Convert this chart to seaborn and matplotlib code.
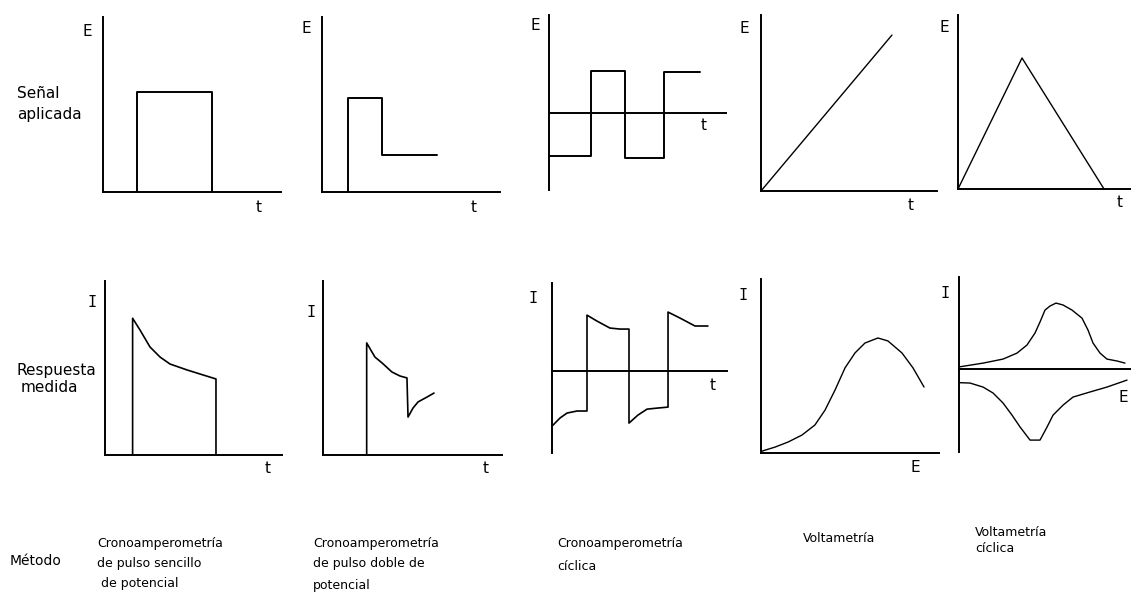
import numpy as np
import pandas as pd
import matplotlib
matplotlib.use("Agg")
import matplotlib.pyplot as plt
import seaborn as sns

# ---------------- data (arbitrary units: time/potential 0-10) ----------------
# Applied signals (E vs t)
pulse1_t = [1.9, 1.9, 6.1, 6.1]
pulse1_E = [0.0, 5.7, 5.7, 0.0]

pulse2_t = [1.46, 1.46, 3.37, 3.37, 6.46]
pulse2_E = [0.0, 5.37, 5.37, 2.11, 2.11]

square_t = [0.0, 2.37, 2.37, 4.29, 4.29, 6.5, 6.5, 8.53]
square_E = [-2.46, -2.46, 2.4, 2.4, -2.57, -2.57, 2.34, 2.34]

ramp_t = [0.0, 7.44]
ramp_E = [0.0, 8.86]

tri_t = [0.0, 3.7, 8.44]
tri_E = [0.0, 7.53, 0.0]

# Measured responses (I vs t or E)
resp1_t = [1.56, 1.56, 1.98, 2.54, 3.11, 3.67, 4.63, 5.54, 6.27, 6.27]
resp1_I = [0.0, 7.86, 7.18, 6.21, 5.63, 5.23, 4.89, 4.60, 4.37, 0.0]

resp2_t = [2.44, 2.44, 2.90, 3.30, 3.85, 4.30, 4.69, 4.75, 5.03, 5.31, 5.81, 6.20]
resp2_I = [0.0, 6.44, 5.63, 5.29, 4.77, 4.54, 4.43, 2.18, 2.70, 3.05, 3.33, 3.56]

resp3_t = [0.0, 0.46, 0.86, 1.43, 2.0, 2.0, 2.57, 3.31, 3.89, 4.4, 4.4, 4.91, 5.43,
           6.0, 6.63, 6.63, 7.31, 8.17, 8.91]
resp3_I = [-3.24, -2.76, -2.47, -2.35, -2.35, 3.29, 2.94, 2.53, 2.47, 2.47, -3.06,
           -2.59, -2.24, -2.18, -2.12, 3.47, 3.12, 2.65, 2.65]

volt_E = [0.0, 0.06, 0.79, 1.52, 2.30, 3.03, 3.60, 4.16, 4.72, 5.28, 5.84, 6.57,
          7.13, 7.92, 8.54, 9.16]
volt_I = [0.0, 0.11, 0.34, 0.63, 1.03, 1.61, 2.47, 3.62, 4.89, 5.75, 6.32, 6.61,
          6.44, 5.75, 4.89, 3.79]

cv_fwd_E = [0.06, 1.40, 2.56, 3.37, 3.95, 4.42, 4.71, 5.00, 5.29, 5.64, 6.05, 6.57,
            7.15, 7.50, 7.79, 8.20, 8.60, 9.19, 9.65]
cv_fwd_I = [0.13, 0.34, 0.57, 0.91, 1.37, 2.06, 2.69, 3.37, 3.60, 3.77, 3.66, 3.37,
            2.91, 2.23, 1.49, 0.91, 0.57, 0.46, 0.34]
cv_rev_E = [0.06, 0.64, 1.40, 1.98, 2.56, 3.08, 3.55, 4.13, 4.71, 5.12, 5.47, 6.05,
            6.63, 7.62, 8.60, 9.77]
cv_rev_I = [-0.78, -0.80, -1.03, -1.37, -1.94, -2.63, -3.31, -4.06, -4.06, -3.31,
            -2.63, -2.06, -1.60, -1.31, -1.03, -0.63]

# Texts
row_labels = [["Señal", "aplicada"], ["Respuesta", "medida"]]
method_header = "Método"
method_names = [
    ["Cronoamperometría", "de pulso sencillo", " de potencial"],
    ["Cronoamperometría", "de pulso doble de", "potencial"],
    ["Cronoamperometría", "cíclica"],
    ["Voltametría"],
    ["Voltametría", "cíclica"],
]

# ---------------- style ----------------
sns.set_theme(style="white")
plt.rcParams["font.family"] = ["DejaVu Sans"]

W, H = 1131, 593
fig = plt.figure(figsize=(W / 100, H / 100), dpi=100)
fig.patch.set_facecolor("white")


def add_panel(box):
    l, t, r, b = box
    return fig.add_axes([l / W, 1 - b / H, (r - l) / W, (b - t) / H])


panels = [
    # box (left, top, right, bottom px), ylim, zero-line, y label, x label, curves
    dict(box=(103, 17, 281, 192), ylim=(0, 10), zero=False,
         ylab=("E", -0.09, 0.92), xlab=("t", 0.875, -0.09),
         curves=[(pulse1_t, pulse1_E, 1.4)]),
    dict(box=(322, 17, 500, 192), ylim=(0, 10), zero=False,
         ylab=("E", -0.09, 0.935), xlab=("t", 0.85, -0.09),
         curves=[(pulse2_t, pulse2_E, 1.4)]),
    dict(box=(549, 15, 726, 190), ylim=(-4.4, 5.6), zero=True,
         ylab=("E", -0.08, 0.94), xlab=("t", 0.875, 0.37),
         curves=[(square_t, square_E, 1.4)]),
    dict(box=(761, 15, 937, 191), ylim=(0, 10), zero=False,
         ylab=("E", -0.097, 0.925), xlab=("t", 0.852, -0.08),
         curves=[(ramp_t, ramp_E, 1.0)]),
    dict(box=(958, 15, 1131, 189), ylim=(0, 10), zero=False,
         ylab=("E", -0.08, 0.93), xlab=("t", 0.936, -0.08),
         curves=[(tri_t, tri_E, 1.0)]),
    dict(box=(105, 281, 282, 455), ylim=(0, 10), zero=False,
         ylab=("I", -0.073, 0.874), xlab=("t", 0.92, -0.075),
         curves=[(resp1_t, resp1_I, 1.2)]),
    dict(box=(323, 281, 502, 455), ylim=(0, 10), zero=False,
         ylab=("I", -0.067, 0.82), xlab=("t", 0.91, -0.08),
         curves=[(resp2_t, resp2_I, 1.2)]),
    dict(box=(552, 283, 727, 453), ylim=(-4.82, 5.18), zero=True,
         ylab=("I", -0.109, 0.906), xlab=("t", 0.92, 0.40),
         curves=[(resp3_t, resp3_I, 1.2)]),
    dict(box=(761, 279, 939, 453), ylim=(0, 10), zero=False,
         ylab=("I", -0.10, 0.908), xlab=("E", 0.865, -0.086),
         curves=[(volt_E, volt_I, 1.0)]),
    dict(box=(959, 277, 1131, 452), ylim=(-4.74, 5.26), zero=True,
         ylab=("I", -0.08, 0.903), xlab=("E", 0.953, 0.314),
         curves=[(cv_fwd_E, cv_fwd_I, 1.0), (cv_rev_E, cv_rev_I, 1.0)]),
]

for p in panels:
    ax = add_panel(p["box"])
    for xs, ys, lw in p["curves"]:
        df = pd.DataFrame({"x": xs, "y": ys})
        sns.lineplot(data=df, x="x", y="y", ax=ax, sort=False, estimator=None,
                     color="black", linewidth=lw, clip_on=False,
                     solid_joinstyle="round", solid_capstyle="round")
    ax.set_xlim(0, 10)
    ax.set_ylim(*p["ylim"])
    ax.set(xlabel="", ylabel="", xticks=[], yticks=[])
    ax.set_facecolor("none")
    for side in ("top", "right"):
        ax.spines[side].set_visible(False)
    for side in ("left", "bottom"):
        ax.spines[side].set_color("black")
        ax.spines[side].set_linewidth(1.4)
    if p["zero"]:
        ax.spines["bottom"].set_position(("data", 0))
    txt, tx, ty = p["ylab"]
    fam = ["DejaVu Sans Mono"] if txt == "I" else ["DejaVu Sans"]
    ax.text(tx, ty, txt, transform=ax.transAxes, fontsize=11, family=fam,
            ha="center", va="center", color="black")
    txt, tx, ty = p["xlab"]
    ax.text(tx, ty, txt, transform=ax.transAxes, fontsize=11,
            ha="center", va="center", color="black")


def fig_text(x, y, s, **kw):
    fig.text(x / W, 1 - y / H, s, ha="left", va="center", color="black", **kw)


# Row captions
fig_text(17, 93, row_labels[0][0], fontsize=11)
fig_text(17, 114, row_labels[0][1], fontsize=11)
fig_text(17, 371, row_labels[1][0], fontsize=11)
fig_text(21, 388, row_labels[1][1], fontsize=11)

# Method names along the bottom
fig_text(10, 561, method_header, fontsize=10)
method_pos = [
    [(97, 543), (97, 563), (97, 584)],
    [(313, 543), (313, 564), (313, 585)],
    [(557, 543), (557, 566)],
    [(803, 539)],
    [(975, 533), (975, 549)],
]
for lines, poss in zip(method_names, method_pos):
    for s, (x, y) in zip(lines, poss):
        fig_text(x, y, s, fontsize=9)

fig.savefig("out.png", dpi=100, facecolor="white")
